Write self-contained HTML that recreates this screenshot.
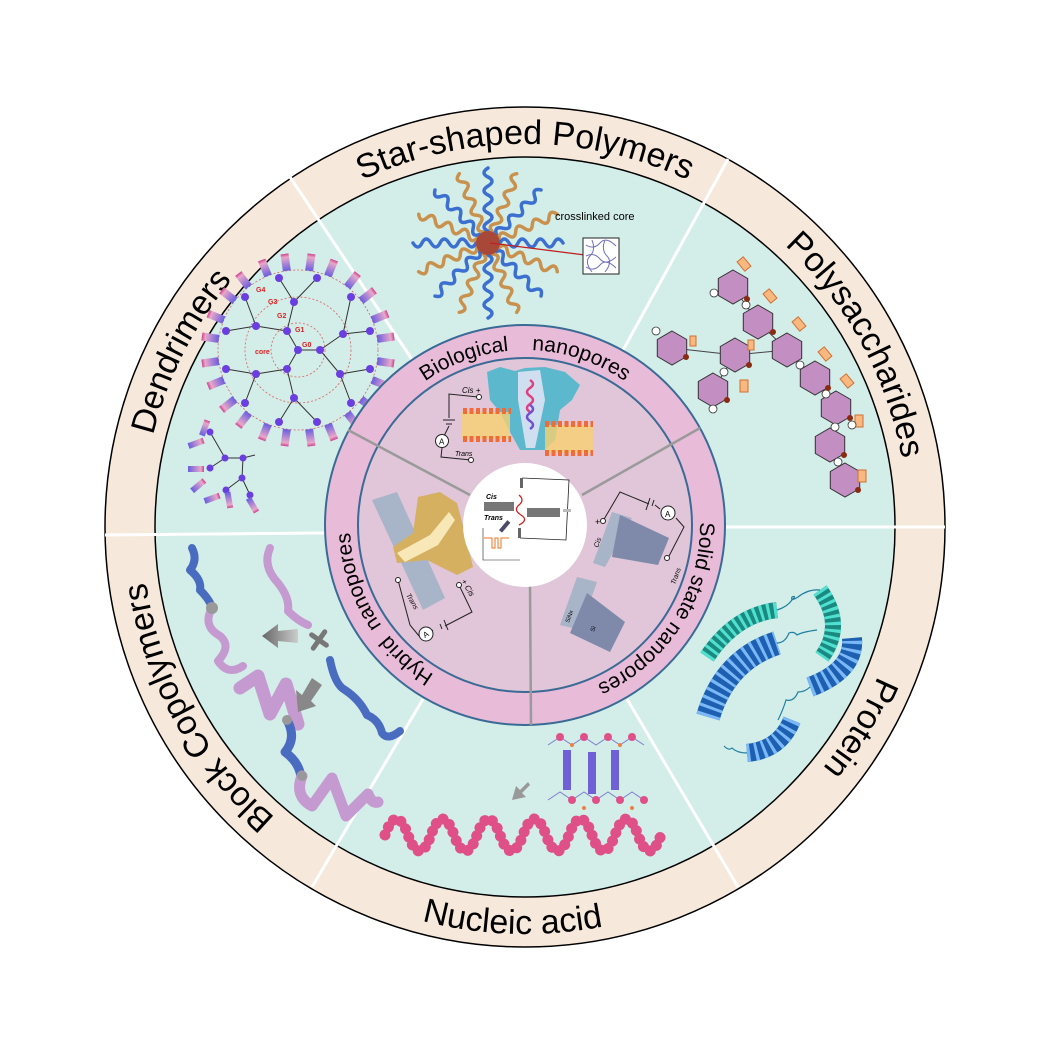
<!DOCTYPE html>
<html><head><meta charset="utf-8"><style>
html,body{margin:0;padding:0;background:#fff;}
svg{display:block;font-family:"Liberation Sans",sans-serif;}
</style></head><body>
<svg width="1057" height="1039" viewBox="0 0 1057 1039" xmlns="http://www.w3.org/2000/svg">
<defs>
<linearGradient id="tip" x1="0" y1="0" x2="1" y2="0"><stop offset="0" stop-color="#6a5ee0"/><stop offset="0.8" stop-color="#e8a8c8"/><stop offset="1" stop-color="#d04090"/></linearGradient>
<linearGradient id="arr" x1="0" y1="0" x2="1" y2="0"><stop offset="0" stop-color="#666"/><stop offset="1" stop-color="#ccc"/></linearGradient>
<path id="cw1" d="M142,527 A383,383 0 1 1 908,527 A383,383 0 1 1 142,527"/>
<path id="ccw1" d="M118,527 A407,407 0 0 0 932,527"/>
<path id="cw2" d="M350,525 A175,175 0 1 1 700,525 A175,175 0 1 1 350,525"/>
<path id="arm" d="M12,0 q4,-8 9,0 t9,0 t9,0 t9,0 t9,0 t9,0 t9,0" fill="none" stroke-linecap="round"/>
<polygon id="hex" points="0,-17 14.7,-8.5 14.7,8.5 0,17 -14.7,8.5 -14.7,-8.5" fill="#c38fc2" stroke="#333" stroke-width="1"/>
<rect id="tr" x="80" y="-4" width="17" height="8" fill="url(#tip)"/>
</defs>

<circle cx="525" cy="527" r="420" fill="#f6e9dc" stroke="#000" stroke-width="1.5"/>
<circle cx="525" cy="527" r="370" fill="#d3ede8" stroke="#000" stroke-width="1.5"/>
<g stroke="#fff" stroke-width="3">
<line x1="413" y1="361" x2="290" y2="177"/>
<line x1="622" y1="352" x2="728" y2="159"/>
<line x1="725" y1="527" x2="945" y2="527"/>
<line x1="627" y1="699" x2="738" y2="887"/>
<line x1="423" y1="699" x2="312" y2="887"/>
<line x1="325" y1="533" x2="105" y2="535"/>
</g>

<g font-size="34" fill="#000">
<text><textPath href="#cw1" startOffset="25%" text-anchor="middle">Star-shaped Polymers</textPath></text>
<text><textPath href="#cw1" startOffset="42%" text-anchor="middle">Polysaccharides</textPath></text>
<text><textPath href="#cw1" startOffset="58.6%" text-anchor="middle">Protein</textPath></text>
<text><textPath href="#cw1" startOffset="92%" text-anchor="middle">Block Copolymers</textPath></text>
<text><textPath href="#cw1" startOffset="7.5%" text-anchor="middle">Dendrimers</textPath></text>
<text><textPath href="#ccw1" startOffset="49%" text-anchor="middle">Nucleic acid</textPath></text>
</g>

<g transform="translate(488,243)" stroke-width="3.5">
<use href="#arm" stroke="#3b6fd0" transform="rotate(0)"/>
<use href="#arm" stroke="#c8914e" transform="rotate(22.5)"/>
<use href="#arm" stroke="#3b6fd0" transform="rotate(45)"/>
<use href="#arm" stroke="#c8914e" transform="rotate(67.5)"/>
<use href="#arm" stroke="#3b6fd0" transform="rotate(90)"/>
<use href="#arm" stroke="#c8914e" transform="rotate(112.5)"/>
<use href="#arm" stroke="#3b6fd0" transform="rotate(135)"/>
<use href="#arm" stroke="#c8914e" transform="rotate(157.5)"/>
<use href="#arm" stroke="#3b6fd0" transform="rotate(180)"/>
<use href="#arm" stroke="#c8914e" transform="rotate(202.5)"/>
<use href="#arm" stroke="#3b6fd0" transform="rotate(225)"/>
<use href="#arm" stroke="#c8914e" transform="rotate(247.5)"/>
<use href="#arm" stroke="#3b6fd0" transform="rotate(270)"/>
<use href="#arm" stroke="#c8914e" transform="rotate(292.5)"/>
<use href="#arm" stroke="#3b6fd0" transform="rotate(315)"/>
<use href="#arm" stroke="#c8914e" transform="rotate(337.5)"/>
<circle r="12" fill="#a84838"/>
</g>
<line x1="490" y1="243" x2="585" y2="255" stroke="#c02020" stroke-width="1.3"/>
<text x="555" y="220" font-size="11">crosslinked core</text>
<rect x="583" y="238" width="36" height="36" fill="#fff" stroke="#222"/>
<path d="M586,245 q8,5 14,-2 t16,3 M586,256 q8,-4 14,3 t16,-2 M586,267 q8,5 14,-2 t16,3 M592,240 q4,10 -2,16 t2,16 M605,240 q-4,10 2,16 t-2,16" fill="none" stroke="#7070c0" stroke-width="1"/>

<g fill="none" stroke="#e06060" stroke-width="0.8" stroke-dasharray="2 2">
<circle cx="298" cy="350" r="27"/><circle cx="298" cy="350" r="53"/><circle cx="298" cy="350" r="80"/>
</g>
<g stroke="#333" stroke-width="1">
<path d="M298,350L287,331M298,350L320,350M298,350L287,369M287,331L256,326M287,331L294,302M320,350L343,334M320,350L340,374M287,369L294,398M287,369L256,374M256,326L226,331M256,326L245,297M294,302L279,278M294,302L317,278M343,334L351,297M343,334L370,331M340,374L370,369M340,374L351,403M294,398L317,422M294,398L279,422M256,374L245,403M256,374L226,369"/>
</g>
<g transform="translate(298,350)">
<use href="#tr" transform="rotate(-172)"/><use href="#tr" transform="rotate(-158)"/><use href="#tr" transform="rotate(-142)"/><use href="#tr" transform="rotate(-128)"/>
<use href="#tr" transform="rotate(-112)"/><use href="#tr" transform="rotate(-98)"/><use href="#tr" transform="rotate(-82)"/><use href="#tr" transform="rotate(-68)"/>
<use href="#tr" transform="rotate(-52)"/><use href="#tr" transform="rotate(-38)"/><use href="#tr" transform="rotate(-22)"/><use href="#tr" transform="rotate(-8)"/>
<use href="#tr" transform="rotate(8)"/><use href="#tr" transform="rotate(22)"/><use href="#tr" transform="rotate(38)"/><use href="#tr" transform="rotate(52)"/>
<use href="#tr" transform="rotate(68)"/><use href="#tr" transform="rotate(82)"/><use href="#tr" transform="rotate(98)"/><use href="#tr" transform="rotate(112)"/>
<use href="#tr" transform="rotate(128)"/><use href="#tr" transform="rotate(142)"/><use href="#tr" transform="rotate(158)"/><use href="#tr" transform="rotate(172)"/>
</g>
<g fill="#6a3ee0">
<circle cx="298" cy="350" r="4"/><circle cx="287" cy="331" r="4"/><circle cx="320" cy="350" r="4"/><circle cx="287" cy="369" r="4"/>
<circle cx="256" cy="326" r="4"/><circle cx="294" cy="302" r="4"/><circle cx="343" cy="334" r="4"/><circle cx="340" cy="374" r="4"/><circle cx="294" cy="398" r="4"/><circle cx="256" cy="374" r="4"/>
<circle cx="226" cy="331" r="4"/><circle cx="245" cy="297" r="4"/><circle cx="279" cy="278" r="4"/><circle cx="317" cy="278" r="4"/><circle cx="351" cy="297" r="4"/><circle cx="370" cy="331" r="4"/>
<circle cx="370" cy="369" r="4"/><circle cx="351" cy="403" r="4"/><circle cx="317" cy="422" r="4"/><circle cx="279" cy="422" r="4"/><circle cx="245" cy="403" r="4"/><circle cx="226" cy="369" r="4"/>
</g>
<g font-size="7" fill="#e02020" font-weight="bold">
<text x="255" y="354">core</text><text x="302" y="347">G0</text><text x="295" y="332">G1</text><text x="277" y="318">G2</text><text x="268" y="304">G3</text><text x="256" y="292">G4</text>
</g>
<g stroke="#333" stroke-width="1" fill="none"><path d="M210,432L225,458L243,458L255,455M243,458L242,478L226,490M242,478L250,495M225,458L210,468"/></g>
<g fill="#6a3ee0"><circle cx="210" cy="432" r="3.5"/><circle cx="225" cy="458" r="3.5"/><circle cx="243" cy="458" r="3.5"/><circle cx="242" cy="478" r="3.5"/><circle cx="226" cy="490" r="3.5"/><circle cx="250" cy="495" r="3.5"/><circle cx="210" cy="468" r="3.5"/></g>
<g fill="url(#tip)">
<rect x="188" y="440" width="16" height="6" transform="rotate(-20 197 443)"/><rect x="196" y="424" width="16" height="6" transform="rotate(-70 205 427)"/>
<rect x="188" y="466" width="16" height="6"/><rect x="190" y="482" width="16" height="6" transform="rotate(-40 199 485)"/>
<rect x="204" y="495" width="16" height="6" transform="rotate(-20 213 498)"/><rect x="220" y="498" width="16" height="6" transform="rotate(80 229 501)"/>
<rect x="244" y="503" width="16" height="6" transform="rotate(60 253 506)"/>
</g>

<g stroke="#444" stroke-width="1" fill="none"><path d="M733,287L758,322L787,350L815,378L836,408L830,445L845,480M672,348L735,355L787,350M735,355L713,390"/></g>
<use href="#hex" x="733" y="287"/><use href="#hex" x="758" y="322"/><use href="#hex" x="672" y="348"/><use href="#hex" x="735" y="355"/>
<use href="#hex" x="787" y="350"/><use href="#hex" x="713" y="390"/><use href="#hex" x="815" y="378"/><use href="#hex" x="836" y="408"/>
<use href="#hex" x="830" y="445"/><use href="#hex" x="845" y="480"/>
<g fill="#f8b880" stroke="#d07030" stroke-width="1">
<rect x="740" y="258" width="8" height="12" transform="rotate(-40 744 264)"/><rect x="766" y="290" width="8" height="12" transform="rotate(-40 770 296)"/>
<rect x="690" y="336" width="6" height="10"/><rect x="748" y="340" width="6" height="10"/><rect x="795" y="318" width="8" height="12" transform="rotate(-40 799 324)"/>
<rect x="740" y="380" width="8" height="12"/><rect x="821" y="348" width="8" height="12" transform="rotate(-40 825 354)"/>
<rect x="843" y="375" width="8" height="12" transform="rotate(-40 847 381)"/><rect x="855" y="415" width="8" height="12"/><rect x="858" y="470" width="8" height="12"/>
</g>
<g fill="#fff" stroke="#333" stroke-width="0.8">
<circle cx="746" cy="305" r="4"/><circle cx="714" cy="293" r="4"/><circle cx="656" cy="331" r="4"/><circle cx="724" cy="372" r="4"/>
<circle cx="800" cy="365" r="4"/><circle cx="826" cy="394" r="4"/><circle cx="835" cy="427" r="4"/><circle cx="838" cy="462" r="4"/><circle cx="713" cy="409" r="4"/><circle cx="852" cy="425" r="4"/>
</g>
<g fill="#8a2a10"><circle cx="747" cy="299" r="3"/><circle cx="773" cy="332" r="3"/><circle cx="686" cy="357" r="3"/><circle cx="749" cy="365" r="3"/><circle cx="828" cy="388" r="3"/><circle cx="850" cy="418" r="3"/><circle cx="844" cy="455" r="3"/><circle cx="727" cy="400" r="3"/><circle cx="858" cy="490" r="3"/></g>

<g fill="none" stroke-linecap="butt">
<path d="M707,657 Q735,615 777,610" stroke="#1a8a80" stroke-width="16"/>
<path d="M707,657 Q735,615 777,610" stroke="#50e0d0" stroke-width="16" stroke-dasharray="3 4"/>
<path d="M820,590 Q845,625 822,657" stroke="#1a8a80" stroke-width="16"/>
<path d="M820,590 Q845,625 822,657" stroke="#50e0d0" stroke-width="16" stroke-dasharray="3 4"/>
<path d="M708,717 Q725,660 777,643" stroke="#1d5fb0" stroke-width="24"/>
<path d="M708,717 Q725,660 777,643" stroke="#7ab8f8" stroke-width="24" stroke-dasharray="3 5"/>
<path d="M810,687 Q855,670 852,638" stroke="#1d5fb0" stroke-width="20"/>
<path d="M810,687 Q855,670 852,638" stroke="#7ab8f8" stroke-width="20" stroke-dasharray="3 5"/>
<path d="M747,753 Q780,750 792,720" stroke="#1d5fb0" stroke-width="18"/>
<path d="M747,753 Q780,750 792,720" stroke="#7ab8f8" stroke-width="18" stroke-dasharray="3 5"/>
<path d="M777,610 q10,-3 15,-10 q5,-5 0,-3 q-2,5 6,0 q10,-8 22,-7 M777,643 q8,0 12,-10 q5,-2 8,2 q5,-3 20,-5 M810,687 q-5,5 -12,5 q-4,10 -12,8 q-3,10 -8,20 M747,753 q-10,0 -15,-5 q-3,3 -8,-2" stroke="#2080a0" stroke-width="1.2"/>
</g>

<path d="M385,835 q11.5,-32 23,0 t23,0 t23,0 t23,0 t23,0 t23,0 t23,0 t23,0 t23,0 t23,0 t23,0 t23,0" fill="none" stroke="#e05088" stroke-width="11" stroke-linecap="round" stroke-dasharray="0.1 8.5"/>
<g stroke="#8080d0" stroke-width="1" fill="none"><path d="M548,745 l12,-8 l12,8 l12,-8 l12,8 l12,-8 l12,8 l12,-8 l12,8 M548,800 l12,-8 l12,8 l12,-8 l12,8 l12,-8 l12,8 l12,-8 l12,8"/></g>
<g fill="#7060d8"><rect x="563" y="750" width="8" height="40"/><rect x="588" y="752" width="8" height="42"/><rect x="611" y="750" width="8" height="40"/></g>
<g fill="#e05088"><circle cx="560" cy="737" r="4"/><circle cx="584" cy="737" r="4"/><circle cx="608" cy="737" r="4"/><circle cx="632" cy="737" r="4"/><circle cx="572" cy="800" r="4"/><circle cx="596" cy="800" r="4"/><circle cx="620" cy="800" r="4"/><circle cx="644" cy="800" r="4"/></g>
<g fill="#f08040"><circle cx="572" cy="745" r="2"/><circle cx="620" cy="745" r="2"/><circle cx="584" cy="808" r="2"/><circle cx="632" cy="808" r="2"/></g>
<polygon points="528,782 520,790 516,786 512,800 526,797 522,793 530,785" fill="#999"/>

<g fill="none" stroke-linecap="round" stroke-linejoin="round">
<path d="M192,548 q6,12 -2,22 q12,10 10,20 q10,10 12,18" stroke="#4a6cc0" stroke-width="8"/>
<path d="M212,608 q-10,18 8,28 q12,10 -2,25 q10,15 25,5" stroke="#c59ad0" stroke-width="8"/>
<path d="M270,548 q-8,18 8,35 q12,15 10,28 q10,10 20,14" stroke="#c59ad0" stroke-width="8"/>
<path d="M330,660 q5,25 15,30 q15,10 22,25 q12,5 15,18 q6,8 18,-2" stroke="#4a6cc0" stroke-width="8"/>
<path d="M240,688 l18,-12 l12,38 l16,-30 l12,40" stroke="#c59ad0" stroke-width="13"/>
<path d="M287,720 q10,18 -2,32 q14,10 16,25" stroke="#4a6cc0" stroke-width="9"/>
<path d="M302,776 q-8,20 10,30 l20,-28 l14,38 l22,-22 q4,10 10,8" stroke="#c59ad0" stroke-width="11"/>
<path d="M310,640 l18,0 M319,630 l0,20" stroke="#777" stroke-width="5" transform="rotate(35 319 640)"/>
</g>
<circle cx="212" cy="608" r="6" fill="#999"/><circle cx="287" cy="720" r="5" fill="#999"/><circle cx="302" cy="776" r="5" fill="#999"/>
<polygon points="262,636 278,624 278,631 298,629 298,643 278,641 278,648" fill="url(#arr)"/>
<polygon points="298,712 316,706 311,701 322,685 312,678 302,695 296,690" fill="#888"/>

<circle cx="525" cy="525" r="200" fill="#e8bbd8" stroke="#3a6a96" stroke-width="2"/>
<circle cx="525" cy="525" r="167" fill="#e0c6d8" stroke="#3a6a96" stroke-width="2"/>
<g stroke="#9a9a9a" stroke-width="2.5">
<line x1="470" y1="495" x2="348" y2="430"/>
<line x1="582" y1="495" x2="700" y2="428"/>
<line x1="530" y1="585" x2="531" y2="725"/>
</g>
<g font-size="21" fill="#000">
<text><textPath href="#cw2" startOffset="25%" text-anchor="middle">Biological&#160;&#160;&#160;&#160;nanopores</textPath></text>
<text><textPath href="#cw2" startOffset="59%" text-anchor="middle">Solid state nanopores</textPath></text>
<text><textPath href="#cw2" startOffset="91.5%" text-anchor="middle">Hybrid&#160;&#160;nanopores</textPath></text>
</g>

<polygon points="487,372 500,367 515,371 525,368 545,367 565,372 580,385 572,400 560,410 555,440 545,450 520,450 510,432 500,412 490,400" fill="#5cb8cc"/>
<polygon points="518,372 540,370 545,400 535,448 526,448 518,400" fill="#d0dff0"/>
<path d="M530,380 q6,4 0,8 t0,8 t0,8 t0,8" stroke="#e04080" stroke-width="2.5" fill="none"/>
<path d="M530,405 q6,4 0,8 t0,8 t0,8" stroke="#7050d0" stroke-width="2.5" fill="none"/>
<g fill="#f8d070" opacity="0.8"><rect x="462" y="412" width="48" height="27"/><rect x="545" y="425" width="48" height="28"/></g>
<g fill="none" stroke="#f06a3a" stroke-width="6" stroke-dasharray="4 2.5">
<path d="M463,411h48"/><path d="M463,439h48"/><path d="M545,424h48"/><path d="M545,453h48"/>
</g>
<g stroke="#222" stroke-width="1" fill="none"><path d="M478,397 L449,394 L449,418 M443,420 h12 M446,424 h6 M449,426 L442,440 M442,448 L441,457 L471,460"/></g>
<circle cx="479" cy="397" r="2.5" fill="#fff" stroke="#222"/><circle cx="471" cy="460" r="2.5" fill="#fff" stroke="#222"/>
<circle cx="442" cy="441" r="6.5" fill="#fff" stroke="#222"/><text x="439" y="444.5" font-size="8">A</text>
<text x="462" y="393" font-size="8" font-style="italic">Cis +</text><text x="455" y="456" font-size="7" font-style="italic">Trans</text>

<polygon points="612,512 632,518 605,567 593,563" fill="#a8b4c8"/>
<polygon points="620,515 669,538 658,565 612,557" fill="#7f8aaa"/>
<polygon points="560,625 577,577 597,582 580,630" fill="#a8b4c8"/>
<polygon points="587,593 625,622 610,652 570,633" fill="#7f8aaa"/>
<g stroke="#222" stroke-width="1" fill="none"><path d="M603,521 L620,492 L649,504 M650,498 l-4,12 M654,500 l-2,6 M655,505 L660,509 M676,518 L684,527 L668,558"/></g>
<circle cx="603" cy="521" r="2.5" fill="#fff" stroke="#222"/><circle cx="667" cy="558" r="2.5" fill="#fff" stroke="#222"/>
<circle cx="668" cy="513" r="7" fill="#fff" stroke="#222"/><text x="665" y="517" font-size="8">A</text>
<text x="595" y="525" font-size="9">+</text>
<text font-size="7" font-style="italic" transform="translate(598,548) rotate(-70)">Cis</text>
<text font-size="7" font-style="italic" transform="translate(675,585) rotate(-70)">Trans</text>
<text font-size="6" transform="translate(569,623) rotate(-70)">SiNx</text>
<text font-size="6" transform="translate(594,632) rotate(-70)">Si</text>

<polygon points="372,500 397,492 445,598 423,610" fill="#a8b4c8"/>
<polygon points="418,497 440,492 457,503 465,533 473,567 457,575 427,560 397,563 393,547 413,533" fill="#d4b060"/>
<polygon points="397,553 430,535 449,512 455,520 438,545 405,562" fill="#f8e8b8"/>
<g stroke="#222" stroke-width="1" fill="none"><path d="M459,585 L472,612 L445,626 M444,620 l4,10 M440,624 l2,5 M433,630 L428,634 M419,636 L410,625 L398,580"/></g>
<circle cx="459" cy="585" r="2.5" fill="#fff" stroke="#222"/><circle cx="398" cy="580" r="2.5" fill="#fff" stroke="#222"/>
<circle cx="426" cy="634" r="7" fill="#fff" stroke="#222"/><text x="423" y="637" font-size="8" transform="rotate(-30 426 634)">A</text>
<text font-size="8" font-style="italic" transform="translate(461,581) rotate(60)">+ Cis</text>
<text font-size="7" font-style="italic" transform="translate(406,595) rotate(60)">Trans</text>

<circle cx="525" cy="525" r="62" fill="#fff"/>
<rect x="484" y="502" width="30" height="9" fill="#777"/><rect x="527" y="508" width="33" height="9" fill="#777"/>
<g stroke="#222" stroke-width="0.8" fill="none"><path d="M522,478 L569,480 L566,540 L520,538"/></g>
<rect x="563" y="509" width="8" height="3" fill="#bbb"/>
<rect x="520" y="478" width="3" height="10" fill="#666"/><rect x="518" y="528" width="3" height="10" fill="#666"/>
<path d="M519,495 q6,5 0,10 t2,10 t-2,10" stroke="#d02020" stroke-width="1.3" fill="none"/>
<rect x="503" y="520" width="4" height="13" fill="#4a4a6a" transform="rotate(40 505 526)"/>
<text x="486" y="499" font-size="7" font-style="italic" font-weight="bold">Cis</text>
<text x="484" y="520" font-size="7" font-style="italic" font-weight="bold">Trans</text>
<path d="M483,528 L483,560 L520,560" stroke="#222" stroke-width="0.6" fill="none"/>
<path d="M484,538 h8 v10 h3 v-10 h3 v10 h3 v-10 h8" stroke="#f07020" stroke-width="1" fill="none"/>
</svg>
</body></html>
